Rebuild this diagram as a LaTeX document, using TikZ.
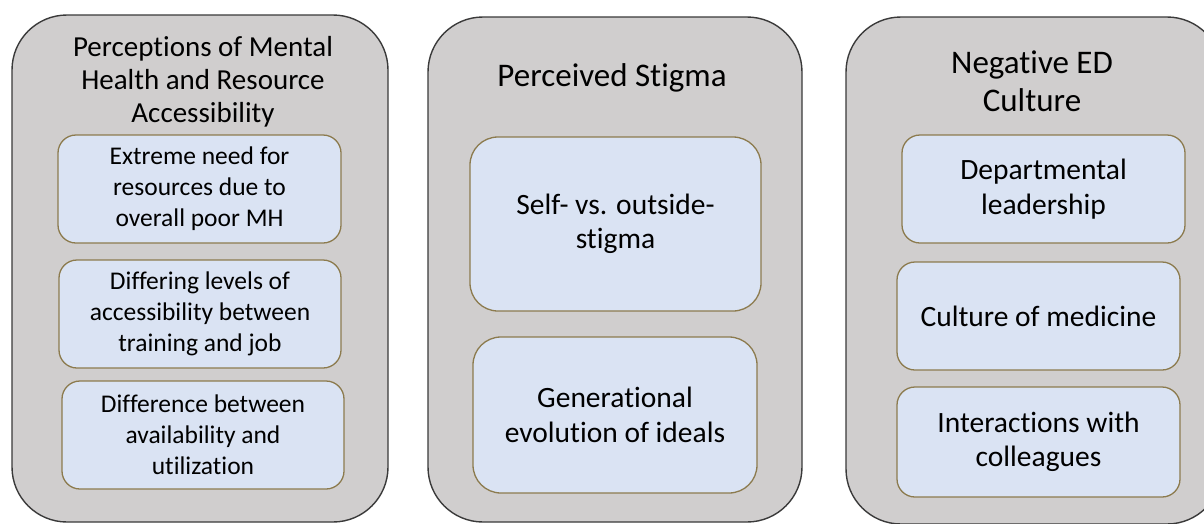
\documentclass[tikz,border=0pt]{standalone}
\usepackage{fontspec}
\setmainfont{Carlito}[Ligatures=NoCommon]
\definecolor{outerfill}{HTML}{D0CECE}
\definecolor{outerline}{HTML}{3A3A3A}
\definecolor{innerfill}{HTML}{DAE3F3}
\definecolor{innerline}{HTML}{8C7B4E}
\begin{document}
\begin{tikzpicture}[x=1pt,y=-1pt,
  outerbox/.style={draw=outerline, fill=outerfill, line width=1.4pt, rounded corners=55pt, inner sep=0pt},
  innerbox/.style={draw=innerline, fill=innerfill, line width=1.3pt, rounded corners=18pt, align=center, inner sep=0pt, font=\fontsize{25.5}{31}\selectfont},
  bigtext/.style={font=\fontsize{29.5}{34.5}\selectfont},
  titletext/.style={align=center, inner sep=0pt, font=\fontsize{33}{38}\selectfont}]
\useasboundingbox (0,0) rectangle (1204,523);
\fill[white] (0,0) rectangle (1204,523);
\clip (0,0) rectangle (1204,523);
% outer boxes
\node[outerbox, minimum width=376pt, minimum height=507pt] (oL) at (200,268.5) {};
\node[outerbox, minimum width=374pt, minimum height=505pt] (oM) at (615,269.5) {};
\node[outerbox, minimum width=376pt, minimum height=507pt] (oR) at (1034,270.5) {};
% titles
\node[titletext, font=\fontsize{29}{33}\selectfont] (tL) at (203,82) {Perceptions of Mental\\Health and Resource\\Accessibility};
\node[titletext] (tM) at (612,78) {Perceived Stigma};
\node[titletext] (tR) at (1032,81) {Negative ED\\Culture};
% inner boxes
\node[innerbox, minimum width=283pt, minimum height=108pt] (L1) at (199.5,189) {Extreme need for\\resources due to\\overall poor MH};
\node[innerbox, minimum width=282pt, minimum height=108pt] (L2) at (200,314) {Differing levels of\\accessibility between\\training and job};
\node[innerbox, minimum width=282pt, minimum height=108pt] (L3) at (203,435) {Difference between\\availability and\\utilization};
\node[innerbox, bigtext, rounded corners=28pt, minimum width=291pt, minimum height=174pt] (M1) at (615.5,224) {Self- vs. outside-\\stigma};
\node[innerbox, bigtext, rounded corners=28pt, minimum width=284pt, minimum height=156pt] (M2) at (615,415) {Generational\\evolution of ideals};
\node[innerbox, bigtext, minimum width=283pt, minimum height=108pt] (R1) at (1043.5,189) {Departmental\\leadership};
\node[innerbox, bigtext, minimum width=283pt, minimum height=108pt] (R2) at (1038.5,316) {Culture of medicine};
\node[innerbox, bigtext, minimum width=283pt, minimum height=110pt] (R3) at (1038.5,442) {Interactions with\\colleagues};
\end{tikzpicture}
\end{document}
